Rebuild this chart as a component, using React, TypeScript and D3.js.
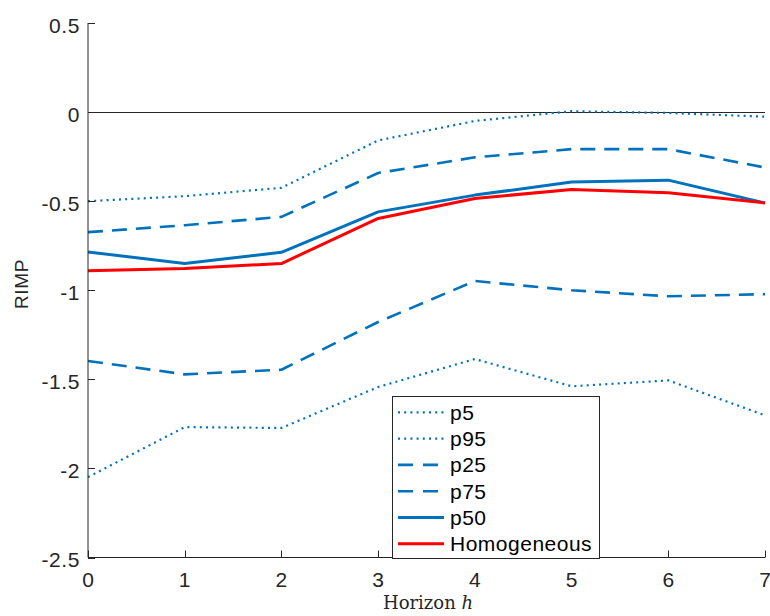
import React from "react";
import * as d3 from "d3";

const horizons = [0, 1, 2, 3, 4, 5, 6, 7];
const p5 = [-2.049, -1.768, -1.773, -1.543, -1.386, -1.539, -1.506, -1.702];
const p95 = [-0.5, -0.472, -0.425, -0.159, -0.05, 0.005, -0.005, -0.026];
const p25 = [-1.397, -1.472, -1.446, -1.178, -0.948, -1.0, -1.034, -1.022];
const p75 = [-0.674, -0.635, -0.588, -0.342, -0.254, -0.208, -0.208, -0.311];
const p50 = [-0.785, -0.85, -0.787, -0.56, -0.466, -0.393, -0.382, -0.51];
const homogeneous = [-0.89, -0.878, -0.85, -0.597, -0.485, -0.434, -0.453, -0.51];

const xTicks = [0, 1, 2, 3, 4, 5, 6, 7];
const yTicks = [0.5, 0, -0.5, -1, -1.5, -2, -2.5];
const yTickLabels = ["0.5", "0", "-0.5", "-1", "-1.5", "-2", "-2.5"];

const BLUE = "#0072BD";
const RED = "#FF0000";
const AX = "#262626";

const seriesList = [
  { name: "p5", values: p5, color: BLUE, width: 2.2, dash: "2,4.2" },
  { name: "p95", values: p95, color: BLUE, width: 2.2, dash: "2,4.2" },
  { name: "p25", values: p25, color: BLUE, width: 2.6, dash: "15,9" },
  { name: "p75", values: p75, color: BLUE, width: 2.6, dash: "15,9" },
  { name: "p50", values: p50, color: BLUE, width: 3, dash: "" },
  { name: "Homogeneous", values: homogeneous, color: RED, width: 3, dash: "" },
];

export default function App() {
  const x = d3.scaleLinear().domain([0, 7]).range([88, 765]);
  const y = d3.scaleLinear().domain([-2.5, 0.5]).range([557.5, 23]);
  const line = d3
    .line<number>()
    .x((_, i) => x(horizons[i]))
    .y((d) => y(d));

  const font = "'Liberation Sans', Arial, Helvetica, sans-serif";
  const legX = 392;
  const legY = 396;
  const legW = 207;
  const legH = 162;
  const rowH = 26.3;

  return (
    <svg
      width={770}
      height={616}
      style={{ position: "absolute", left: 0, top: 0, display: "block", background: "#fff" }}
    >
      <rect x={0} y={0} width={770} height={616} fill="#fff" />
      <line x1={x(0)} x2={x(7)} y1={Math.round(y(0)) + 0.5} y2={Math.round(y(0)) + 0.5} stroke={AX} strokeWidth={1} />
      {seriesList.map((s) => (
        <path
          key={s.name}
          d={line(s.values) || ""}
          fill="none"
          stroke={s.color}
          strokeWidth={s.width}
          strokeDasharray={s.dash || undefined}
          strokeLinejoin="round"
        />
      ))}
      <line x1={88} x2={88} y1={y(0.5)} y2={557.5} stroke={AX} strokeWidth={1} />
      <line x1={88} x2={765} y1={557.5} y2={557.5} stroke={AX} strokeWidth={1} />
      {xTicks.map((t) => (
        <g key={"xt" + t}>
          <line x1={Math.round(x(t)) + 0.5} x2={Math.round(x(t)) + 0.5} y1={557.5} y2={550.5} stroke={AX} strokeWidth={1} />
          <text
            x={x(t)}
            y={587}
            textAnchor="middle"
            fontFamily={font}
            fontSize={21}
            fill={AX}
          >
            {String(t)}
          </text>
        </g>
      ))}
      {yTicks.map((t, i) => (
        <g key={"yt" + t}>
          <line x1={88} x2={95} y1={Math.round(y(t)) + 0.5} y2={Math.round(y(t)) + 0.5} stroke={AX} strokeWidth={1} />
          <text
            x={80}
            y={y(t) + 9.5}
            textAnchor="end"
            fontFamily={font}
            fontSize={21}
            letterSpacing={0.6}
            fill={AX}
          >
            {yTickLabels[i]}
          </text>
        </g>
      ))}
      <text
        transform={`translate(27.5,284) rotate(-90)`}
        textAnchor="middle"
        fontFamily={font}
        fontSize={19}
        letterSpacing={0.6}
        fill={AX}
      >
        RIMP
      </text>
      <text
        x={428}
        y={609}
        textAnchor="middle"
        fontFamily="'DejaVu Serif', 'Liberation Serif', serif"
        fontSize={18}
        fill={AX}
      >
        Horizon <tspan fontStyle="italic">h</tspan>
      </text>
      <rect x={legX + 0.5} y={legY + 0.5} width={legW} height={legH} fill="#fff" stroke={AX} strokeWidth={1} />
      {seriesList.map((s, i) => {
        const cy = 412.3 + i * rowH;
        return (
          <g key={"leg" + s.name}>
            <line
              x1={398}
              x2={444}
              y1={cy}
              y2={cy}
              stroke={s.color}
              strokeWidth={s.width}
              strokeDasharray={s.dash ? (s.dash === "15,9" ? "15,10" : s.dash) : undefined}
            />
            <text x={450} y={cy + 7.5} fontFamily={font} fontSize={21} letterSpacing={0.5} fill="#000">
              {s.name}
            </text>
          </g>
        );
      })}
    </svg>
  );
}
